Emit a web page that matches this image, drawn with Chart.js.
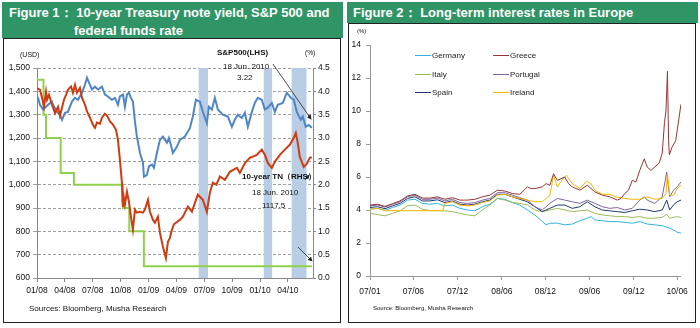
<!DOCTYPE html>
<html><head><meta charset="utf-8">
<script src="https://cdn.jsdelivr.net/npm/chart.js@4.4.1/dist/chart.umd.min.js"></script>
<style>
body{margin:0;width:700px;height:328px;background:#fff;position:relative;overflow:hidden;font-family:"Liberation Sans",Arial,sans-serif;}
.tbar{position:absolute;background:#2f9566;color:#fff;font-weight:bold;font-size:13px;white-space:nowrap;}
.tbar span{position:absolute;line-height:16px;}
.box{position:absolute;box-sizing:border-box;border:1px solid #222;background:#fff;}
canvas{position:absolute;}
.t{position:absolute;white-space:nowrap;color:#111;line-height:10px;}
.lg{position:absolute;font-size:8px;color:#222;line-height:10px;white-space:nowrap;}
.lg i{display:inline-block;width:16px;height:0;border-top:1.5px solid;vertical-align:middle;margin-right:1px;}
svg{position:absolute;left:0;top:0;}
</style></head><body>
<div class="tbar" style="left:2px;top:2px;width:341px;height:36px;"><span style="left:7px;top:3px;">Figure 1： 10-year Treasury note yield, S&amp;P 500 and</span><span style="left:72px;top:21px;">federal funds rate</span></div>
<div class="box" style="left:3px;top:38px;width:338px;height:285px;"></div>
<div class="tbar" style="left:347px;top:2px;width:351px;height:21px;"><span style="left:6px;top:3px;">Figure 2： Long-term interest rates in Europe</span></div>
<div class="box" style="left:348px;top:23px;width:348px;height:300px;"></div>
<canvas id="c1" width="337" height="284" style="left:3px;top:38px;"></canvas>
<canvas id="c2" width="347" height="299" style="left:348px;top:23px;"></canvas>
<div class="t" style="left:20px;top:50px;font-size:7px;">(USD)</div>
<div class="t" style="left:305px;top:48px;font-size:6.5px;">(%)</div>
<div class="t" style="left:217px;top:48px;font-size:8px;font-weight:bold;">S&amp;P500(LHS)</div>
<div class="t" style="left:223px;top:62px;font-size:8px;">18 Jun. 2010</div>
<div class="t" style="left:237px;top:73px;font-size:8px;">3.22</div>
<div class="t" style="left:242px;top:172px;font-size:8px;font-weight:bold;">10-year TN（RHS）</div>
<div class="t" style="left:252px;top:188px;font-size:8px;">18 Jun. 2010</div>
<div class="t" style="left:262px;top:201px;font-size:8px;">1117.5</div>
<div class="t" style="left:29px;top:304px;font-size:8px;">Sources: Bloomberg, Musha Research</div>
<div class="t" style="left:357px;top:26px;font-size:6px;">(%)</div>
<div class="t" style="left:373px;top:303px;font-size:6px;">Source: Bloomberg, Musha Research</div>
<div id="legend"></div>
<svg width="700" height="328">
<defs><marker id="ah" markerWidth="6" markerHeight="6" refX="5" refY="3" orient="auto"><path d="M0,0 L6,3 L0,6 z" fill="#222"/></marker></defs>
<line x1="273" y1="64" x2="311" y2="119" stroke="#222" stroke-width="0.8" marker-end="url(#ah)"/>
<line x1="298" y1="247" x2="312" y2="261" stroke="#222" stroke-width="0.8" marker-end="url(#ah)"/>
<line x1="305" y1="180" x2="309" y2="175" stroke="#222" stroke-width="0.8" marker-end="url(#ah)"/>
</svg>
<script>
// ---------- Figure 1 data (x = months since Jan 2008) ----------
const sp500 = [[0,1414],[0.32,1407],[0.54,1373],[0.75,1334],[0.97,1398],[1.08,1364],[1.29,1385],[1.61,1343],[1.94,1307],[2.26,1334],[2.47,1295],[2.69,1330],[2.9,1364],[3.12,1385],[3.33,1407],[3.66,1421],[3.87,1394],[4.09,1428],[4.3,1394],[4.62,1415],[4.84,1373],[5.16,1343],[5.38,1314],[5.7,1287],[6.02,1257],[6.24,1244],[6.45,1266],[6.77,1261],[6.99,1287],[7.31,1304],[7.53,1296],[7.85,1271],[8.17,1257],[8.49,1236],[8.71,1193],[8.92,1107],[9.14,1008],[9.19,935],[9.25,905],[9.35,943],[9.46,914],[9.68,970],[9.89,927],[10.11,863],[10.32,807],[10.54,893],[10.75,880],[11.08,884],[11.4,880],[11.61,893],[11.94,935],[12.15,884],[12.47,850],[12.69,837],[13.01,863],[13.23,794],[13.55,734],[13.87,686],[14.09,755],[14.3,772],[14.52,807],[14.73,830],[15.05,840],[15.4,850],[15.7,863],[16.24,906],[16.67,884],[16.99,922],[17.31,957],[17.85,935],[18.28,884],[18.6,965],[18.92,1008],[19.3,1000],[19.68,1035],[20.22,1021],[20.75,1055],[21.51,1072],[21.83,1050],[22.37,1093],[22.9,1115],[23.66,1128],[24.19,1150],[24.52,1128],[24.84,1093],[25.27,1072],[25.59,1098],[26.13,1128],[26.67,1150],[27.2,1171],[27.63,1201],[27.85,1222],[28.06,1179],[28.28,1119],[28.49,1098],[28.71,1076],[29.03,1090],[29.35,1115],[29.57,1117.5]];
const tn10 = [[0,3.89],[0.11,3.86],[0.32,3.71],[0.65,3.61],[0.86,3.65],[1.18,3.71],[1.61,3.78],[1.72,3.71],[2.15,3.56],[2.47,3.5],[2.69,3.39],[3.01,3.54],[3.33,3.56],[3.76,3.78],[4.09,3.86],[4.41,3.82],[4.84,3.97],[5.16,4.14],[5.38,4.29],[5.59,4.19],[5.91,4.04],[6.24,4.1],[6.56,4.04],[6.99,4.1],[7.31,3.93],[7.63,3.89],[8.06,3.82],[8.39,3.86],[8.71,3.71],[8.92,3.89],[9.25,3.93],[9.46,3.67],[9.68,3.93],[9.89,3.97],[10.11,3.86],[10.32,3.78],[10.54,3.35],[10.75,3.03],[11.08,2.68],[11.4,2.47],[11.51,2.17],[11.83,2.21],[12.04,2.39],[12.37,2.43],[12.58,2.36],[12.9,2.68],[13.23,2.96],[13.55,3.03],[13.98,2.9],[14.19,3.0],[14.41,2.85],[14.62,2.68],[15.05,2.81],[15.38,2.96],[15.91,3.03],[16.45,3.21],[16.77,3.46],[17.1,3.82],[17.53,3.78],[17.85,3.56],[18.28,3.32],[18.49,3.67],[18.82,3.61],[19.14,3.86],[19.46,3.61],[20,3.5],[20.54,3.46],[20.97,3.24],[21.29,3.39],[21.61,3.5],[22.04,3.43],[22.37,3.54],[22.69,3.24],[23.12,3.56],[23.44,3.75],[23.76,3.86],[24.19,3.82],[24.52,3.61],[24.84,3.65],[25.27,3.75],[25.59,3.56],[25.91,3.71],[26.45,3.75],[26.88,3.97],[27.31,3.86],[27.63,3.82],[27.96,3.56],[28.39,3.39],[28.6,3.46],[28.92,3.24],[29.25,3.28],[29.57,3.22]];
const fedFunds = [[0,4.25],[0.7,3.5],[0.97,3.0],[2.55,2.25],[3.97,2.0],[9.25,1.5],[9.93,1.0],[11.5,0.25],[29.57,0.25]];
const shadedBands = [[17.4,18.4],[24.4,25.3],[27.4,29.0]];
const fig1XTicks = [0,3,6,9,12,15,18,21,24,27];
const fig1XLabels = ['01/08','04/08','07/08','10/08','01/09','04/09','07/09','10/09','01/10','04/10'];
const fig1LeftTicks = [600,700,800,900,1000,1100,1200,1300,1400,1500];
const fig1RightTicks = [0,0.5,1,1.5,2,2.5,3,3.5,4,4.5];

// ---------- Figure 2 data (x = months since Jan 2007) ----------
const germany = [[0,4.05],[1,4.1],[2,3.98],[3,4.15],[4,4.3],[5,4.6],[6,4.65],[7,4.4],[8,4.35],[9,4.4],[10,4.25],[11,4.3],[12,4.1],[13,4.0],[14,3.95],[15,4.2],[16,4.35],[17,4.7],[18,4.65],[19,4.45],[20,4.3],[21,4.0],[22,3.7],[23,3.3],[23.5,3.1],[24,3.2],[25,3.2],[26,3.1],[27,3.15],[28,3.35],[29,3.5],[29.5,3.6],[30,3.4],[31,3.35],[32,3.3],[33,3.3],[34,3.25],[35,3.2],[36,3.3],[37,3.15],[38,3.1],[39,3.05],[40,2.9],[40.5,2.8],[41,2.65],[41.5,2.6]];
const greece = [[0,4.3],[1,4.35],[2,4.22],[3,4.38],[4,4.55],[5,4.85],[6,4.95],[7,4.72],[8,4.72],[9,4.8],[10,4.65],[11,4.75],[12,4.6],[13,4.6],[14,4.65],[15,4.8],[16,4.9],[17,5.2],[18,5.15],[19,5.0],[20,4.95],[21,5.4],[21.5,5.3],[22,5.3],[23,5.4],[23.5,5.6],[24,5.5],[24.5,6.2],[25,5.8],[26,6.0],[26.5,5.6],[27,5.4],[28,5.2],[29,5.5],[30,5.1],[31,4.9],[32,4.8],[33,4.6],[33.5,4.7],[34,5.0],[34.5,5.2],[35,5.8],[35.5,5.7],[36,6.4],[36.6,7.1],[37,6.6],[37.5,6.4],[38,6.6],[38.6,6.85],[39,7.45],[39.3,9.3],[39.5,10.0],[39.7,12.4],[39.85,8.2],[39.95,7.35],[40.3,7.8],[40.8,8.2],[41.2,9.45],[41.5,10.4]];
const italy = [[0,3.8],[1,3.72],[2,3.65],[3,3.8],[4,3.95],[5,4.25],[6,4.3],[7,4.05],[8,3.96],[9,3.96],[10,3.95],[11,3.9],[12,3.8],[13,3.7],[14,3.65],[15,4.0],[16,4.3],[17,4.7],[18,4.6],[19,4.45],[20,4.4],[21,4.3],[22,4.0],[23,3.9],[24,4.0],[25,4.1],[26,4.0],[27,3.9],[28,3.95],[29,4.0],[30,3.8],[31,3.7],[32,3.65],[33,3.6],[34,3.6],[35,3.55],[36,3.6],[37,3.5],[38,3.5],[39,3.55],[39.6,3.75],[40,3.5],[41,3.6],[41.5,3.55]];
const portugal = [[0,4.25],[1,4.3],[2,4.18],[3,4.35],[4,4.5],[5,4.8],[6,4.9],[7,4.65],[8,4.65],[9,4.72],[10,4.55],[11,4.65],[12,4.45],[13,4.4],[14,4.45],[15,4.6],[16,4.7],[17,5.05],[18,5.05],[19,4.9],[20,4.75],[21,4.6],[22,4.2],[23,4.0],[24,4.4],[25,4.7],[26,4.6],[27,4.5],[28,4.4],[29,4.6],[30,4.4],[31,4.2],[32,4.1],[33,4.15],[34,4.0],[35,4.1],[36,4.6],[36.6,4.8],[37,4.6],[38,4.4],[39,4.8],[39.6,6.3],[39.8,5.5],[40,4.8],[40.5,5.2],[41,5.4],[41.5,5.7]];
const spain = [[0,4.15],[1,4.2],[2,4.08],[3,4.25],[4,4.4],[5,4.7],[6,4.8],[7,4.55],[8,4.55],[9,4.62],[10,4.45],[11,4.55],[12,4.35],[13,4.3],[14,4.35],[15,4.5],[16,4.6],[17,4.95],[18,4.95],[19,4.8],[20,4.65],[21,4.5],[22,4.2],[23,3.9],[24,4.1],[25,4.3],[26,4.3],[27,4.1],[28,4.2],[29,4.5],[30,4.2],[31,4.0],[32,3.95],[33,3.9],[34,3.85],[35,3.95],[36,4.05],[37,4.0],[38,3.9],[39,4.0],[39.6,4.6],[40,4.0],[40.5,4.3],[41,4.5],[41.5,4.6]];
const ireland = [[0,4.05],[1,4.1],[2,3.96],[9.7,3.96],[10,4.4],[11,4.5],[12,4.3],[13,4.25],[14,4.3],[15,4.45],[16,4.55],[17,4.9],[18,4.95],[19,4.8],[20,4.7],[21,4.6],[22,4.5],[23,4.5],[24,4.9],[24.5,6.1],[25,5.4],[25.6,5.8],[26.2,6.1],[27,5.6],[28,5.3],[28.9,5.75],[29.5,5.6],[30,5.2],[31,4.95],[32,4.95],[33,4.77],[34,4.7],[35,4.65],[36,4.65],[37,4.8],[38,4.65],[39,4.7],[39.5,5.0],[39.7,6.2],[40,4.9],[40.5,4.9],[41,5.3],[41.5,5.5]];
const fig2XTicks = [0,5.8,11.7,17.6,23.4,29.3,35.2,41];
const fig2XLabels = ['07/01','07/06','07/12','08/06','08/12','09/06','09/12','10/06'];
const fig2YTicks = [0,2,4,6,8,10,12,14];
const fig2Series = [
  {name:'Greece', data:greece, color:'#953735'},
  {name:'Ireland', data:ireland, color:'#f2b800'},
  {name:'Portugal', data:portugal, color:'#8064a2'},
  {name:'Spain', data:spain, color:'#1f3a68'},
  {name:'Italy', data:italy, color:'#9bbb59'},
  {name:'Germany', data:germany, color:'#2fb4e0'}
];
const legendOrder = ['Germany','Greece','Italy','Portugal','Spain','Ireland'];

Chart.defaults.font.family = '"Liberation Sans", Arial, sans-serif';
const tickFont1 = {family:'"Liberation Sans Narrow", "Liberation Sans", Arial, sans-serif', size:8.5};
const pts = arr => arr.map(p => ({x:p[0], y:p[1]}));
const setTicks = vals => s => { s.ticks = vals.map(v => ({value:v})); };

const bandPlugin = {
  id:'bands',
  beforeDatasetsDraw(chart){
    const {ctx, chartArea:a, scales:{x}} = chart;
    ctx.save(); ctx.fillStyle = '#b9cde5';
    shadedBands.forEach(b => {
      const x0 = x.getPixelForValue(b[0]), x1 = x.getPixelForValue(b[1]);
      ctx.fillRect(x0, a.top, x1 - x0, a.bottom - a.top);
    });
    ctx.restore();
  }
};

new Chart(document.getElementById('c1'), {
  type:'line',
  data:{datasets:[
    {label:'S&P 500', data:pts(sp500), yAxisID:'yL', borderColor:'#cc3d12', borderWidth:2, pointRadius:0, order:0},
    {label:'10-year TN', data:pts(tn10), yAxisID:'yR', borderColor:'#4f86c6', borderWidth:2, pointRadius:0, order:1},
    {label:'FF rate', data:pts(fedFunds), yAxisID:'yR', borderColor:'#8fd14f', borderWidth:2, pointRadius:0, stepped:true, order:2}
  ]},
  options:{
    responsive:false, animation:false,
    layout:{padding:{top:30, left:0, right:0, bottom:0}},
    plugins:{legend:{display:false}, tooltip:{enabled:false}},
    scales:{
      x:{type:'linear', min:0, max:29.7, afterBuildTicks:setTicks(fig1XTicks),
         afterFit:s=>{s.height=44;},
         ticks:{callback:(v,i)=>fig1XLabels[i], font:tickFont1, color:'#111', padding:4, maxRotation:0, autoSkip:false},
         grid:{drawOnChartArea:false, tickLength:4, color:'#888'}, border:{color:'#888'}},
      yL:{position:'left', min:600, max:1500, afterBuildTicks:setTicks(fig1LeftTicks),
         afterFit:s=>{s.width=34;},
         ticks:{callback:v=>v.toLocaleString('en-US'), font:tickFont1, color:'#111', padding:3},
         grid:{color:'#888', tickLength:4, lineWidth:0.8}, border:{color:'#888', dash:[3,2]}},
      yR:{position:'right', min:0, max:4.5, afterBuildTicks:setTicks(fig1RightTicks),
         afterFit:s=>{s.width=27;},
         ticks:{callback:v=>v.toFixed(1), font:tickFont1, color:'#111', padding:2},
         grid:{drawOnChartArea:false, tickLength:3, color:'#888'}, border:{color:'#888'}}
    }
  },
  plugins:[bandPlugin]
});

new Chart(document.getElementById('c2'), {
  type:'line',
  data:{datasets: fig2Series.map(s => ({label:s.name, data:pts(s.data), borderColor:s.color, borderWidth:1, pointRadius:0}))},
  options:{
    responsive:false, animation:false,
    layout:{padding:{top:22, left:0, right:13, bottom:0}},
    plugins:{legend:{display:false}, tooltip:{enabled:false}},
    scales:{
      x:{type:'linear', min:0, max:41.5, afterBuildTicks:setTicks(fig2XTicks),
         afterFit:s=>{s.height=46;},
         ticks:{callback:(v,i)=>fig2XLabels[i], font:{size:8.5}, color:'#111', padding:7, maxRotation:0, autoSkip:false},
         grid:{drawOnChartArea:false, tickLength:4, color:'#999'}, border:{color:'#999'}},
      y:{min:0, max:14, afterBuildTicks:setTicks(fig2YTicks),
         afterFit:s=>{s.width=22;},
         ticks:{font:{size:8.5}, color:'#111', padding:5},
         grid:{drawOnChartArea:false, tickLength:4, color:'#999'}, border:{color:'#999'}}
    }
  }
});

// HTML legend for Figure 2 (2 columns x 3 rows)
const lg = document.getElementById('legend');
legendOrder.forEach((name, i) => {
  const s = fig2Series.find(d => d.name === name);
  const el = document.createElement('div');
  el.className = 'lg';
  el.style.left = (i % 2 ? 493 : 415) + 'px';
  el.style.top = (51 + Math.floor(i / 2) * 18.5) + 'px';
  el.innerHTML = '<i style="border-color:' + s.color + '"></i>' + name;
  lg.appendChild(el);
});
</script>
</body></html>
